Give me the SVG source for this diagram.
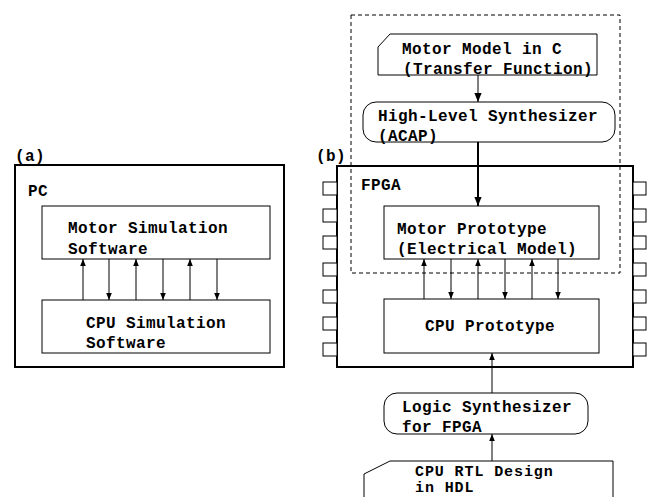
<svg xmlns="http://www.w3.org/2000/svg" width="652" height="497" viewBox="0 0 652 497">
<style>
text{font-family:"Liberation Mono","Courier New",monospace;font-weight:bold;font-size:16px;letter-spacing:0.4px;fill:#000}
text.sm{font-size:15px;letter-spacing:0.9px}
.box{fill:#fff;stroke:#000;stroke-width:1}
.frame{fill:#fff;stroke:#000;stroke-width:2}
.pin{fill:#fff;stroke:#000;stroke-width:1}
.ln{stroke:#000;stroke-width:1;fill:none}
.thick{stroke:#000;stroke-width:2;fill:none}
.dash{fill:none;stroke:#000;stroke-width:1;stroke-dasharray:4,3}
</style>
<defs>
<marker id="ah" viewBox="0 0 10 10" refX="10" refY="5" markerWidth="7" markerHeight="7" markerUnits="userSpaceOnUse" orient="auto"><path d="M0,1 L10,5 L0,9 Z" fill="#000"/></marker>
<marker id="ah2" viewBox="0 0 10 10" refX="10" refY="5" markerWidth="9" markerHeight="9" markerUnits="userSpaceOnUse" orient="auto"><path d="M0,1 L10,5 L0,9 Z" fill="#000"/></marker>
</defs>
<rect width="652" height="497" fill="#fff"/>

<g id="panel-a">
<text x="15" y="161">(a)</text>
<g id="pc"><rect class="frame" x="15" y="165" width="269" height="202"/><text x="28" y="196">PC</text></g>
<g id="motor-sim"><rect class="box" x="42" y="206" width="228" height="53"/><text x="68" y="233">Motor Simulation</text><text x="68" y="254">Software</text></g>
<g id="cpu-sim"><rect class="box" x="42" y="300" width="228" height="53"/><text x="86" y="328">CPU Simulation</text><text x="86" y="348">Software</text></g>
</g>

<g id="panel-b">
<text x="316" y="161">(b)</text>
<g id="fpga">
<rect class="frame" x="337" y="166" width="296" height="201"/>
<g id="pins">
<rect class="pin" x="323" y="182" width="14" height="13"/>
<rect class="pin" x="323" y="209" width="14" height="13"/>
<rect class="pin" x="323" y="236" width="14" height="13"/>
<rect class="pin" x="323" y="263" width="14" height="13"/>
<rect class="pin" x="323" y="290" width="14" height="13"/>
<rect class="pin" x="323" y="317" width="14" height="13"/>
<rect class="pin" x="323" y="343" width="14" height="13"/>
<rect class="pin" x="633" y="182" width="13" height="13"/>
<rect class="pin" x="633" y="209" width="13" height="13"/>
<rect class="pin" x="633" y="236" width="13" height="13"/>
<rect class="pin" x="633" y="263" width="13" height="13"/>
<rect class="pin" x="633" y="290" width="13" height="13"/>
<rect class="pin" x="633" y="317" width="13" height="13"/>
<rect class="pin" x="633" y="343" width="13" height="13"/>
</g>
<text x="361" y="190">FPGA</text>
</g>
<g id="motor-proto"><rect class="box" x="384" y="206" width="215" height="53"/><text x="397" y="234">Motor Prototype</text><text x="397" y="254">(Electrical Model)</text></g>
<g id="cpu-proto"><rect class="box" x="384" y="299" width="215" height="54"/><text x="425" y="331">CPU Prototype</text></g>
<rect class="dash" x="351" y="15" width="269" height="258"/>
<g id="motor-model"><path class="box" d="M378,47 L390,34 L597,34 L597,75 L378,75 Z"/><text x="402" y="54">Motor Model in C</text><text x="403" y="74">(Transfer Function)</text></g>
<g id="hls"><rect class="box" x="363" y="102" width="252" height="40" rx="13" ry="13"/><text x="378" y="121">High-Level Synthesizer</text><text x="378" y="141">(ACAP)</text></g>
<g id="logic-synth"><rect class="box" x="384" y="393" width="204" height="41" rx="13" ry="13"/><text x="402" y="412">Logic Synthesizer</text><text x="402" y="432">for FPGA</text></g>
<g id="cpu-rtl"><path class="box" d="M364,474 L390,461 L613,461 L613,500 L364,500 Z"/><text class="sm" x="415" y="476">CPU RTL Design</text><text class="sm" x="415" y="492">in HDL</text></g>
</g>

<g id="connectors">
<line class="ln" x1="83" y1="300" x2="83" y2="259" marker-end="url(#ah)"/>
<line class="ln" x1="109" y1="259" x2="109" y2="300" marker-end="url(#ah)"/>
<line class="ln" x1="136" y1="300" x2="136" y2="259" marker-end="url(#ah)"/>
<line class="ln" x1="163" y1="259" x2="163" y2="300" marker-end="url(#ah)"/>
<line class="ln" x1="190" y1="300" x2="190" y2="259" marker-end="url(#ah)"/>
<line class="ln" x1="217" y1="259" x2="217" y2="300" marker-end="url(#ah)"/>
<line class="ln" x1="424" y1="299" x2="424" y2="259" marker-end="url(#ah)"/>
<line class="ln" x1="451" y1="259" x2="451" y2="299" marker-end="url(#ah)"/>
<line class="ln" x1="478" y1="299" x2="478" y2="259" marker-end="url(#ah)"/>
<line class="ln" x1="505" y1="259" x2="505" y2="299" marker-end="url(#ah)"/>
<line class="ln" x1="532" y1="299" x2="532" y2="259" marker-end="url(#ah)"/>
<line class="ln" x1="558" y1="259" x2="558" y2="299" marker-end="url(#ah)"/>
<line class="ln" x1="478" y1="75" x2="478" y2="102" marker-end="url(#ah2)"/>
<line class="thick" x1="478" y1="142" x2="478" y2="206" marker-end="url(#ah2)"/>
<line class="ln" x1="492" y1="393" x2="492" y2="353" marker-end="url(#ah)"/>
<line class="ln" x1="492" y1="461" x2="492" y2="434" marker-end="url(#ah)"/>
</g>
</svg>
